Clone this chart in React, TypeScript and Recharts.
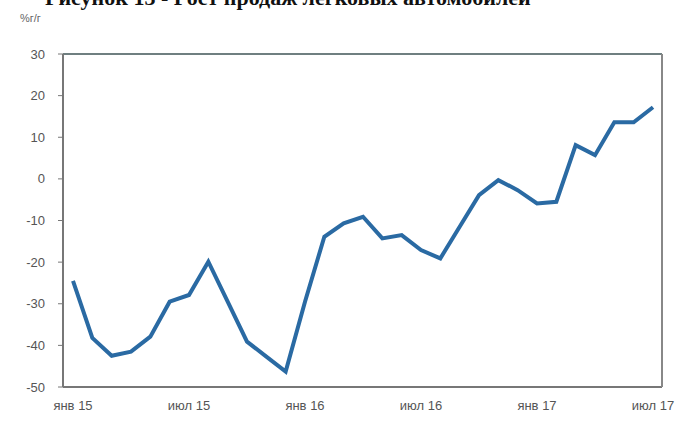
import { LineChart, Line, XAxis, YAxis, ReferenceLine } from 'recharts';

const months = [
    'янв 15', 'фев 15', 'мар 15', 'апр 15', 'май 15', 'июн 15',
    'июл 15', 'авг 15', 'сен 15', 'окт 15', 'ноя 15', 'дек 15',
    'янв 16', 'фев 16', 'мар 16', 'апр 16', 'май 16', 'июн 16',
    'июл 16', 'авг 16', 'сен 16', 'окт 16', 'ноя 16', 'дек 16',
    'янв 17', 'фев 17', 'мар 17', 'апр 17', 'май 17', 'июн 17',
    'июл 17',
];

// продажи легковых автомобилей, % г/г
const salesYoY = [
    -24.5, -38.2, -42.5, -41.5, -37.9, -29.5,
    -27.9, -19.9, -29.5, -39.1, -42.7, -46.3,
    -29.5, -13.9, -10.7, -9.1, -14.3, -13.5,
    -17.1, -19.1, -11.5, -3.9, -0.3, -2.7,
    -5.9, -5.5, 8.1, 5.7, 13.6, 13.6,
    17.2,
];

const yTicks = [30, 20, 10, 0, -10, -20, -30, -40, -50];

const data = months.map((m, i) => ({ month: m, value: salesYoY[i] }));

const labelFont = '"Liberation Sans", Arial, sans-serif';

export default function App() {
    return (
        <div style={{ position: 'absolute', left: 0, top: 0, width: 689, height: 432, background: '#fff', overflow: 'hidden' }}>
            <div
                style={{
                    position: 'absolute',
                    left: 45,
                    top: -15,
                    fontFamily: '"Liberation Serif", serif',
                    fontWeight: 'bold',
                    fontSize: 22,
                    color: '#111',
                    whiteSpace: 'nowrap',
                }}
            >
                Рисунок 13 - Рост продаж легковых автомобилей
            </div>
            <div
                style={{
                    position: 'absolute',
                    left: 20,
                    top: 12,
                    fontFamily: labelFont,
                    fontSize: 11,
                    color: '#666',
                }}
            >
                %г/г
            </div>
            <div style={{ position: 'absolute', left: 0, top: 0 }}>
                <LineChart width={689} height={432} data={data} margin={{ top: 54, right: 26, bottom: 15, left: 23 }}>
                    <XAxis
                        dataKey="month"
                        interval={5}
                        padding={{ left: 10, right: 9 }}
                        tickLine={false}
                        axisLine={{ stroke: '#777', strokeWidth: 2 }}
                        tick={{ fill: '#555', fontSize: 13, fontFamily: labelFont }}
                        tickMargin={14}
                        tickSize={0}
                        height={30}
                    />
                    <YAxis
                        width={40}
                        domain={[-50, 30]}
                        ticks={yTicks}
                        interval={0}
                        tickSize={5}
                        tickMargin={13}
                        tickLine={{ stroke: '#777' }}
                        axisLine={{ stroke: '#777', strokeWidth: 2 }}
                        tick={{ fill: '#555', fontSize: 13, fontFamily: labelFont }}
                    />
                    <YAxis
                        yAxisId="right"
                        orientation="right"
                        width={1}
                        domain={[-50, 30]}
                        ticks={yTicks}
                        tick={false}
                        tickLine={false}
                        axisLine={{ stroke: '#888', strokeWidth: 2 }}
                    />
                    <ReferenceLine y={30} stroke="#6f7f80" strokeWidth={2} />
                    <ReferenceLine yAxisId="right" y={0} stroke="#999" strokeWidth={2} />
                    <Line
                        type="linear"
                        dataKey="value"
                        stroke="#2a6aa3"
                        strokeWidth={4}
                        dot={false}
                        isAnimationActive={false}
                    />
                </LineChart>
            </div>
        </div>
    );
}
